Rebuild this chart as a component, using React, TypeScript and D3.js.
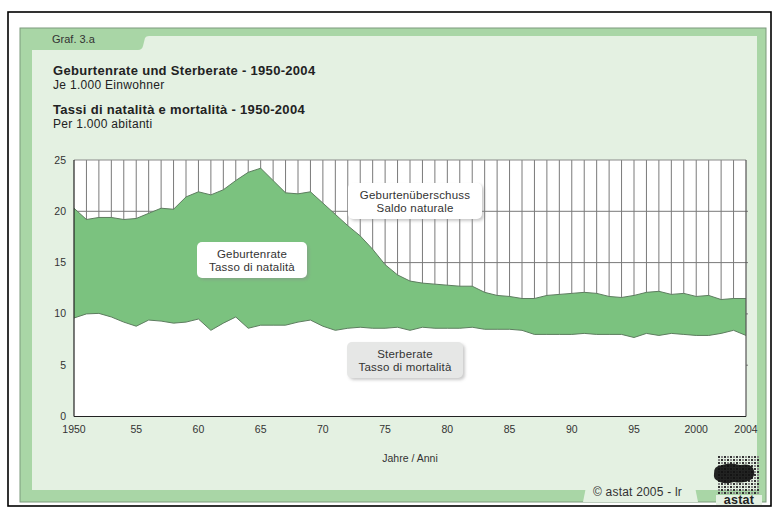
import React from 'react';
import * as d3 from 'd3';

const years = [1950,1951,1952,1953,1954,1955,1956,1957,1958,1959,1960,1961,1962,1963,1964,1965,1966,1967,1968,1969,1970,1971,1972,1973,1974,1975,1976,1977,1978,1979,1980,1981,1982,1983,1984,1985,1986,1987,1988,1989,1990,1991,1992,1993,1994,1995,1996,1997,1998,1999,2000,2001,2002,2003,2004];

const birthRate = [20.3,19.2,19.4,19.4,19.2,19.3,19.8,20.3,20.2,21.4,21.9,21.6,22.1,23.0,23.8,24.2,23.0,21.8,21.7,21.9,20.8,19.7,18.6,17.6,16.3,14.8,13.8,13.2,13.0,12.9,12.8,12.7,12.7,12.1,11.8,11.7,11.5,11.5,11.8,11.9,12.0,12.1,12.0,11.7,11.6,11.8,12.1,12.2,11.9,12.0,11.7,11.8,11.4,11.5,11.5];

const deathRate = [9.6,10.0,10.05,9.7,9.2,8.8,9.4,9.3,9.1,9.2,9.5,8.4,9.1,9.7,8.6,8.9,8.9,8.9,9.2,9.4,8.8,8.4,8.6,8.7,8.6,8.6,8.7,8.4,8.7,8.6,8.6,8.6,8.7,8.5,8.5,8.5,8.4,8.0,8.0,8.0,8.0,8.1,8.0,8.0,8.0,7.7,8.1,7.9,8.1,8.0,7.9,7.9,8.1,8.4,7.9];

const yTicks = [0, 5, 10, 15, 20, 25];
const xTicks = [1950, 1955, 1960, 1965, 1970, 1975, 1980, 1985, 1990, 1995, 2000, 2004];
const xTickLabels = ['1950', '55', '60', '65', '70', '75', '80', '85', '90', '95', '2000', '2004'];

const titleDe = 'Geburtenrate und Sterberate - 1950-2004';
const subDe = 'Je 1.000 Einwohner';
const titleIt = 'Tassi di natalità e mortalità - 1950-2004';
const subIt = 'Per 1.000 abitanti';

const FONT = '"Liberation Sans", Arial, Helvetica, sans-serif';

export default function App() {
  const x = d3.scaleLinear().domain([1950, 2004]).range([74, 746]);
  const y = d3.scaleLinear().domain([0, 25]).range([416.5, 160]);

  const idx = years.map((_, i) => i);
  const birthArea = d3.area<number>().x(i => x(years[i])).y0(y(0)).y1(i => y(birthRate[i]))(idx) || '';
  const deathArea = d3.area<number>().x(i => x(years[i])).y0(y(0)).y1(i => y(deathRate[i]))(idx) || '';
  const birthLine = d3.line<number>().x(i => x(years[i])).y(i => y(birthRate[i]))(idx) || '';
  const deathLine = d3.line<number>().x(i => x(years[i])).y(i => y(deathRate[i]))(idx) || '';

  const gridYears = years.filter(v => v > 1950 && v < 2004);

  // logo dots
  const dots: { cx: number; cy: number; dark: boolean }[] = [];
  for (let r = 0; r < 13; r++) {
    for (let c = 0; c < 14; c++) {
      dots.push({ cx: 718 + c * 3, cy: 456 + r * 3, dark: (r + c) % 2 === 0 });
    }
  }

  const box = (cx: number, y0: number, w: number, h: number, fill: string, l1: string, l2: string, key: string) => (
    <g key={key}>
      <rect x={cx - w / 2 + 2} y={y0 + 2} width={w} height={h} rx={5} fill="#8a8a8a" opacity={0.45} filter="url(#blur)" />
      <rect x={cx - w / 2} y={y0} width={w} height={h} rx={5} fill={fill} />
      <text x={cx} y={y0 + 16} textAnchor="middle" fontSize={11.5} letterSpacing={0.2} fill="#333" fontFamily={FONT}>{l1}</text>
      <text x={cx} y={y0 + 29} textAnchor="middle" fontSize={11.5} letterSpacing={0.2} fill="#333" fontFamily={FONT}>{l2}</text>
    </g>
  );

  return (
    <svg width={774} height={520} style={{ position: 'absolute', left: 0, top: 0, background: '#fff' }} fontFamily={FONT}>
      <defs>
        <filter id="blur" x="-20%" y="-20%" width="140%" height="140%">
          <feGaussianBlur stdDeviation="1.5" />
        </filter>
      </defs>
      {/* outer frame */}
      <rect x={8} y={12} width={763} height={494} fill="#fff" stroke="#000" strokeWidth={1.6} />
      {/* green panel */}
      <rect x={20} y={28} width={746} height={474} fill="#a9d6a6" stroke="#7d9a7c" strokeWidth={1} />
      <path d="M32,50 L138,50 Q142,50 143,46 L145,38 Q146,36 149,36 L757,36 L757,490 L32,490 Z" fill="#e4f1e2" />
      {/* copyright tab */}
      <path d="M583,502 L586,487 Q587,484 591,484 L690,484 Q694,484 695,487 L698,502 Z" fill="#e4f1e2" />
      <text x={52} y={43} fontSize={11} fill="#333">Graf. 3.a</text>

      <text x={53} y={75} fontSize={13} letterSpacing={0.3} fontWeight="bold" fill="#222">{titleDe}</text>
      <text x={53} y={89} fontSize={12} letterSpacing={0.3} fill="#222">{subDe}</text>
      <text x={53} y={114} fontSize={13} letterSpacing={0.3} fontWeight="bold" fill="#222">{titleIt}</text>
      <text x={53} y={128} fontSize={12} letterSpacing={0.3} fill="#222">{subIt}</text>

      {/* plot background */}
      <rect x={x(1950)} y={y(25)} width={x(2004) - x(1950)} height={y(0) - y(25)} fill="#fff" />
      {gridYears.map(v => (
        <line key={'gx' + v} x1={x(v)} x2={x(v)} y1={y(25)} y2={y(0)} stroke="#7a7a7a" strokeWidth={1} />
      ))}
      {yTicks.filter(t => t > 0 && t < 25).map(t => (
        <line key={'gy' + t} x1={x(1950)} x2={x(2004) + 2} y1={y(t)} y2={y(t)} stroke="#7a7a7a" strokeWidth={1} />
      ))}
      <path d={birthArea} fill="#7bc27f" />
      <path d={deathArea} fill="#fff" />
      <path d={birthLine} fill="none" stroke="#5d7d5f" strokeWidth={1} />
      <path d={deathLine} fill="none" stroke="#5d7d5f" strokeWidth={1} />
      {/* frame */}
      <line x1={x(1950)} x2={x(2004)} y1={y(25)} y2={y(25)} stroke="#8a8a8a" strokeWidth={1} />
      <line x1={x(2004)} x2={x(2004)} y1={y(25)} y2={y(0)} stroke="#555" strokeWidth={1.2} />
      <line x1={x(1950)} x2={x(1950)} y1={y(25)} y2={y(0)} stroke="#222" strokeWidth={1.2} />
      <line x1={x(1950)} x2={x(2004)} y1={y(0)} y2={y(0)} stroke="#222" strokeWidth={1.2} />

      {yTicks.map(t => (
        <text key={'yt' + t} x={66} y={y(t) + 3.5} textAnchor="end" fontSize={10.5} fill="#333">{t}</text>
      ))}
      {xTicks.map((t, i) => (
        <text key={'xt' + t} x={x(t)} y={433} textAnchor="middle" fontSize={10.5} fill="#333">{xTickLabels[i]}</text>
      ))}
      <text x={410} y={462} textAnchor="middle" fontSize={10.5} fill="#333">Jahre / Anni</text>

      {box(252, 242, 110, 36, '#fff', 'Geburtenrate', 'Tasso di natalità', 'b1')}
      {box(415, 183, 134, 36, '#fff', 'Geburtenüberschuss', 'Saldo naturale', 'b2')}
      {box(405, 342, 116, 36, '#e6e7e6', 'Sterberate', 'Tasso di mortalità', 'b3')}

      <text x={593} y={496} fontSize={12} letterSpacing={0.2} fill="#333">© astat 2005 - lr</text>

      {/* logo */}
      {dots.map((d, i) => (
        <rect key={'d' + i} x={d.cx} y={d.cy} width={2} height={2} fill={d.dark ? '#333' : '#888'} />
      ))}
      <path d="M714,474 Q713,466 722,465 Q730,462 740,465 Q750,463 753,468 Q756,474 752,479 Q744,484 734,482 Q724,485 718,481 Q713,479 714,474 Z" fill="#111" opacity={0.92} />
      <rect x={716} y={495} width={46} height={10} fill="#e4f1e2" />
      <text x={739} y={504} textAnchor="middle" fontSize={12.5} fontWeight="bold" letterSpacing={0.3} fill="#222">astat</text>
    </svg>
  );
}
